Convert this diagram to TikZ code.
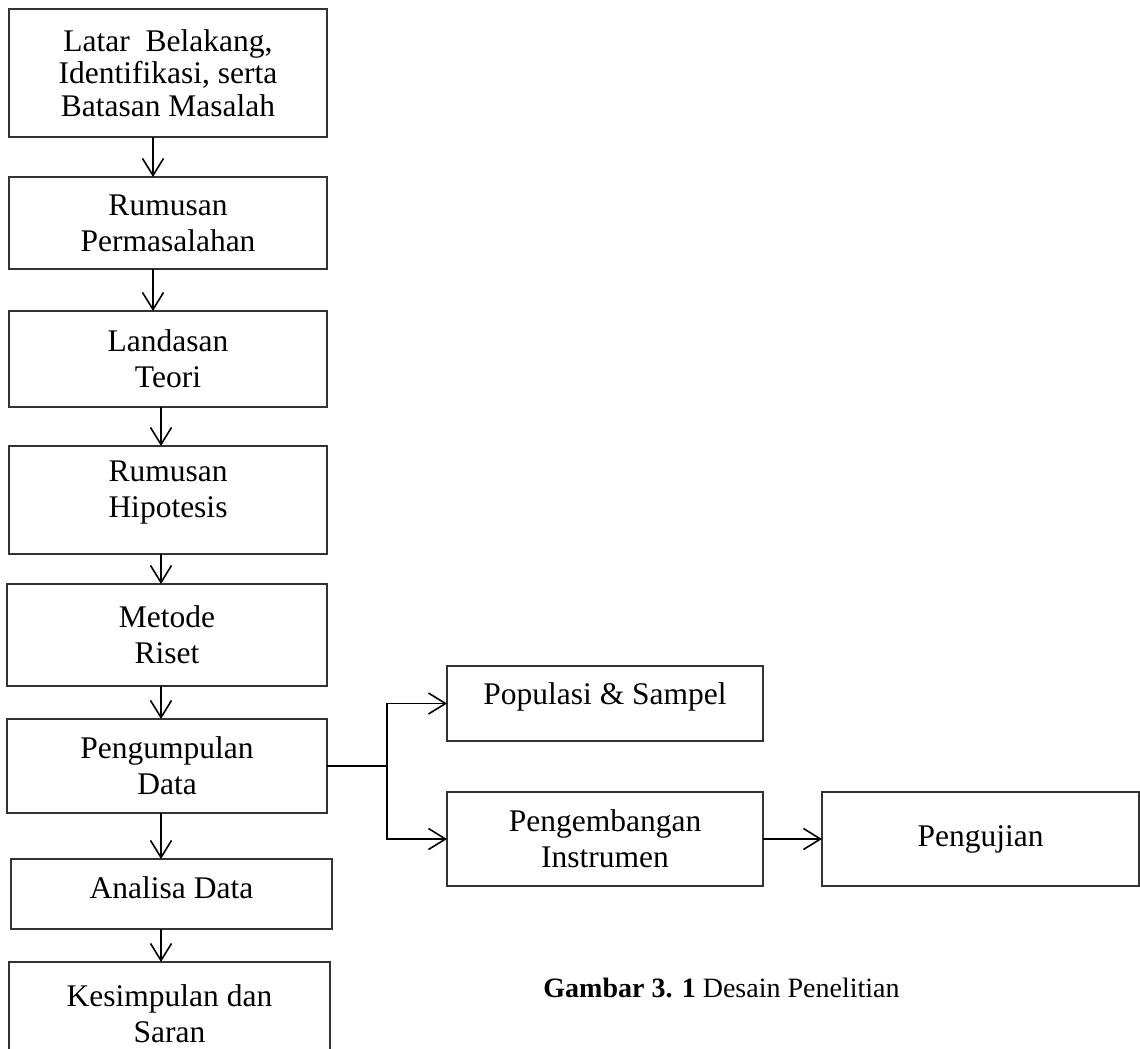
\documentclass[tikz,border=0pt]{standalone}
\usepackage{fontspec}
\setmainfont{Liberation Serif}
\usetikzlibrary{arrows.meta}
\tikzset{
  kotak/.style={draw=black!80, line width=0.6pt, align=center, inner sep=2pt, outer sep=0pt,
    font=\fontsize{15.75}{18}\selectfont},
  panah/.style={-{Straight Barb[length=8.5pt,width=10.5pt]}, line width=0.8pt}
}
\begin{document}
\begin{tikzpicture}[x=0.5pt, y=-0.5pt]
  % batas gambar
  \useasboundingbox (0,0) rectangle (1140,1049);
  % kolom panah
  \coordinate (kol1) at (153,0);
  \coordinate (kol2) at (161,0);
  \coordinate (cabang) at (387,766);
  % kotak kiri
  \node[kotak, minimum width=159pt, minimum height=64pt, font=\fontsize{15.75}{16.25}\selectfont] (latar) at (168,73) {Latar\ \ Belakang,\\Identifikasi, serta\\Batasan Masalah};
  \node[kotak, minimum width=159pt, minimum height=46pt] (rumusan) at (168,223) {Rumusan\\Permasalahan};
  \node[kotak, minimum width=159pt, minimum height=48pt] (landasan) at (168,359) {Landasan\\Teori};
  \node[kotak, minimum width=159pt, minimum height=54pt, text depth=11pt] (hipotesis) at (168,500) {Rumusan\\Hipotesis};
  \node[kotak, minimum width=160pt, minimum height=51pt] (metode) at (167,635) {Metode\\Riset};
  \node[kotak, minimum width=160pt, minimum height=47pt] (kumpul) at (167,766) {Pengumpulan\\Data};
  \node[kotak, minimum width=160.5pt, minimum height=35pt, text depth=6.5pt] (analisa) at (171.5,894) {Analisa Data};
  \node[kotak, minimum width=160.5pt, minimum height=52pt] (simpulan) at (169.5,1014) {Kesimpulan dan\\Saran};
  % kotak kanan
  \node[kotak, minimum width=158pt, minimum height=37.5pt, text depth=10.4pt] (populasi) at (605,703.5) {Populasi \& Sampel};
  \node[kotak, minimum width=158pt, minimum height=47pt] (instrumen) at (605,839) {Pengembangan\\Instrumen};
  \node[kotak, minimum width=158.5pt, minimum height=47pt] (uji) at (980.5,839) {Pengujian};
  % panah
  \draw[panah] (latar.south -| kol1) -- (rumusan.north -| kol1);
  \draw[panah] (rumusan.south -| kol1) -- (landasan.north -| kol1);
  \draw[panah] (landasan.south -| kol2) -- (hipotesis.north -| kol2);
  \draw[panah] (hipotesis.south -| kol2) -- (metode.north -| kol2);
  \draw[panah] (metode.south -| kol2) -- (kumpul.north -| kol2);
  \draw[panah] (kumpul.south -| kol2) -- (analisa.north -| kol2);
  \draw[panah] (analisa.south -| kol2) -- (simpulan.north -| kol2);
  \draw[line width=0.8pt] (kumpul.east) -- (cabang);
  \draw[panah] (cabang) |- (populasi.west);
  \draw[panah] (cabang) |- (instrumen.west);
  \draw[panah] (instrumen.east) -- (uji.west);
  % keterangan
  \node[anchor=base west, inner sep=0pt, font=\fontsize{14}{16}\selectfont] (judul) at (543,997) {\textbf{Gambar 3. 1} Desain Penelitian};
\end{tikzpicture}
\end{document}
